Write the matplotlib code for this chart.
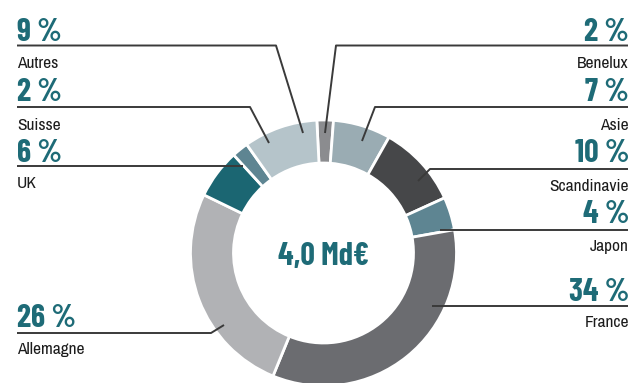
import matplotlib.pyplot as plt

# Répartition du chiffre d'affaires par zone (en %)
zones = ["Benelux", "Asie", "Scandinavie", "Japon", "France",
         "Allemagne", "UK", "Suisse", "Autres"]
parts = [2, 7, 10, 4, 34, 26, 6, 2, 9]
couleurs = ["#8b8c8f", "#9aacb3", "#464749", "#5e8592", "#6b6c70",
            "#b1b2b5", "#1b6672", "#5e8592", "#b5c4ca"]
total = "4,0 Md€"

TEAL = "#1e6b77"
W, H = 628, 383
POLICE_CHIFFRES = ["Barlow Condensed", "DejaVu Sans"]
POLICE_NOMS = ["Archivo Narrow", "Roboto Condensed", "DejaVu Sans"]

# mise en page des étiquettes (pixels, y vers le bas)
# côté, base du %, ligne, base du nom, coude x, point d'ancrage
layout = {
    "Autres":      ("g", 41, 45.5, 68, 276, (303, 133)),
    "Suisse":      ("g", 101, 107, 130, 250, (269, 143)),
    "UK":          ("g", 162, 166, 188, None, (243, 166)),
    "Allemagne":   ("g", 327, 333, 354, 211, (224, 325)),
    "Benelux":     ("d", 41, 45.5, 68, 336, (325, 133)),
    "Asie":        ("d", 101, 107, 130, 375, (362, 141)),
    "Scandinavie": ("d", 162, 169, 191, 430, (418, 181)),
    "Japon":       ("d", 223, 230, 251, None, (440, 230)),
    "France":      ("d", 301, 306, 327, None, (432, 306)),
}

def Y(y):
    return H - y

fig = plt.figure(figsize=(W / 100, H / 100), dpi=100)
ax = fig.add_axes([0, 0, 1, 1])

cx, cy, r = 323.5, Y(253), 133
ax.pie(parts, colors=couleurs, center=(cx, cy), radius=r,
       startangle=90 + 0.8 * 3.6, counterclock=False,
       wedgeprops=dict(width=43, edgecolor="white", linewidth=2))

ax.set_xlim(0, W)
ax.set_ylim(0, H)
ax.set_aspect("equal")
ax.axis("off")

ax.text(cx, Y(265), total, ha="center", va="baseline", color=TEAL,
        fontsize=23, fontweight="bold", family=POLICE_CHIFFRES)

for zone, p in zip(zones, parts):
    cote, yb, yl, yn, xc, (xa, ya) = layout[zone]
    if cote == "g":
        xt, ha, xbord = 17, "left", 17
    else:
        xt, ha, xbord = 629, "right", W
    ax.text(xt, Y(yb), f"{p} %", ha=ha, va="baseline", color=TEAL,
            fontsize=23, fontweight="bold", family=POLICE_CHIFFRES)
    ax.text(xt, Y(yn), zone, ha=ha, va="baseline", color="#1c1c1c",
            fontsize=12.5, family=POLICE_NOMS)
    if xc is None:
        xs, ys = [xbord, xa], [yl, ya]
    else:
        xs, ys = [xbord, xc, xa], [yl, yl, ya]
    ax.plot(xs, [Y(v) for v in ys], color="#3a3a3a", lw=1.4,
            solid_capstyle="butt")

fig.savefig("out.png", dpi=100)
